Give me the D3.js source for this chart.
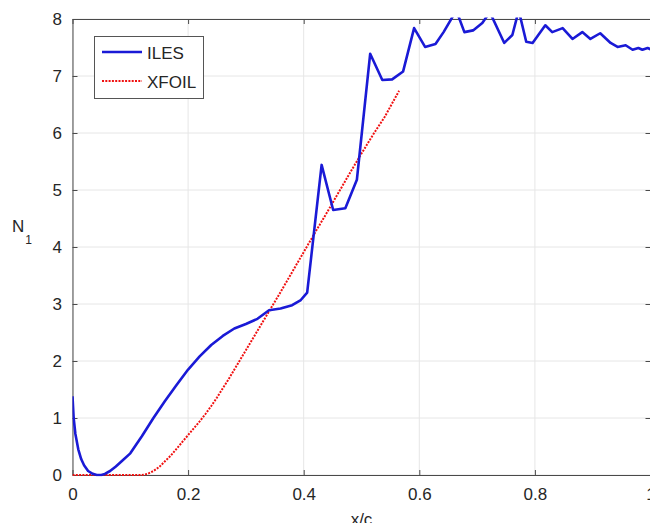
<!DOCTYPE html>
<html>
<head>
<meta charset="utf-8">
<script src="https://cdn.jsdelivr.net/npm/d3@7"></script>
<style>
  html, body { margin: 0; padding: 0; background: #fff; overflow: hidden; }
  svg { display: block; font-family: "Liberation Sans", Arial, Helvetica, sans-serif; }
</style>
</head>
<body>
<svg id="chart" width="650" height="523"></svg>
<script>
// ILES transition indicator N1 along the chord
const ilesX = [0, 0.002, 0.005, 0.01, 0.015, 0.02, 0.027, 0.035, 0.042, 0.05, 0.056, 0.065, 0.075, 0.085, 0.1, 0.12, 0.14, 0.16, 0.18, 0.2, 0.22, 0.24, 0.26, 0.28, 0.3, 0.32, 0.34, 0.36, 0.38, 0.395, 0.406,
  0.431, 0.451, 0.472, 0.492, 0.515, 0.536, 0.553, 0.572, 0.591, 0.61, 0.628, 0.642, 0.664, 0.678, 0.693, 0.709, 0.722, 0.747, 0.761, 0.772, 0.785, 0.796, 0.818, 0.83, 0.848, 0.865, 0.882, 0.896, 0.913, 0.931, 0.943, 0.957, 0.969, 0.979, 0.986, 0.995, 1.0];
const ilesN = [1.38, 1.0, 0.72, 0.45, 0.28, 0.17, 0.07, 0.02, 0.0, 0.0, 0.02, 0.07, 0.15, 0.24, 0.38, 0.68, 1.0, 1.3, 1.58, 1.85, 2.08, 2.28, 2.44, 2.57, 2.65, 2.74, 2.89, 2.92, 2.98, 3.07, 3.2,
  5.44, 4.65, 4.68, 5.18, 7.39, 6.93, 6.94, 7.08, 7.84, 7.51, 7.56, 7.77, 8.15, 7.77, 7.8, 7.93, 8.12, 7.58, 7.72, 8.15, 7.6, 7.58, 7.89, 7.77, 7.84, 7.65, 7.77, 7.65, 7.75, 7.58, 7.51, 7.54, 7.46, 7.49, 7.46, 7.49, 7.47];

// XFOIL envelope N-factor
const xfoilX = [0, 0.12, 0.13, 0.14, 0.15, 0.16, 0.17, 0.18, 0.19, 0.2, 0.21, 0.22, 0.23, 0.24, 0.25, 0.26, 0.27, 0.28, 0.29, 0.3, 0.31, 0.32, 0.33, 0.34, 0.35, 0.36, 0.38, 0.4, 0.42, 0.44, 0.46, 0.48, 0.5, 0.52, 0.54, 0.565];
const xfoilN = [0, 0, 0.02, 0.07, 0.14, 0.24, 0.34, 0.46, 0.58, 0.7, 0.82, 0.94, 1.07, 1.21, 1.36, 1.52, 1.68, 1.85, 2.02, 2.19, 2.36, 2.53, 2.7, 2.87, 3.04, 3.21, 3.56, 3.91, 4.26, 4.6, 4.95, 5.3, 5.64, 5.97, 6.28, 6.74];

const xTickValues = [0, 0.2, 0.4, 0.6, 0.8, 1];
const xTickLabels = ["0", "0.2", "0.4", "0.6", "0.8", "1"];
const yTickValues = [0, 1, 2, 3, 4, 5, 6, 7, 8];
const yTickLabels = ["0", "1", "2", "3", "4", "5", "6", "7", "8"];

const seriesNames = ["ILES", "XFOIL"];

const svg = d3.select("#chart");
const plotLeft = 72.5, plotRight = 650.5, plotTop = 19, plotBottom = 475;

const x = d3.scaleLinear().domain([0, 1]).range([plotLeft, plotRight]);
const y = d3.scaleLinear().domain([0, 8]).range([plotBottom, plotTop]);

const axisColor = "#4a4a4a";
const textColor = "#262626";

// grid
const grid = svg.append("g");
grid.selectAll("line.gx").data(xTickValues).join("line")
  .attr("x1", d => x(d)).attr("x2", d => x(d))
  .attr("y1", plotTop).attr("y2", plotBottom)
  .attr("stroke", "#e6e6e6").attr("stroke-width", 1);
grid.selectAll("line.gy").data(yTickValues).join("line")
  .attr("x1", plotLeft).attr("x2", plotRight)
  .attr("y1", d => y(d)).attr("y2", d => y(d))
  .attr("stroke", "#e6e6e6").attr("stroke-width", 1);

function styleAxis(g, labels) {
  g.select(".domain").attr("stroke", axisColor);
  g.selectAll(".tick line").attr("stroke", axisColor);
  g.selectAll(".tick text").attr("fill", textColor).style("font-size", "17px");
  if (!labels) g.selectAll(".tick text").remove();
}

// bottom axis, ticks pointing inward
svg.append("g").attr("transform", `translate(0,${plotBottom})`)
  .call(d3.axisBottom(x).tickValues(xTickValues)
    .tickFormat((d, i) => xTickLabels[i]).tickSizeInner(-5).tickSizeOuter(0).tickPadding(12.5))
  .call(g => styleAxis(g, true));

// top box edge
svg.append("g").attr("transform", `translate(0,${plotTop})`)
  .call(d3.axisTop(x).tickValues(xTickValues).tickSizeInner(-5).tickSizeOuter(0))
  .call(g => styleAxis(g, false));

// left axis
svg.append("g").attr("transform", `translate(${plotLeft},0)`)
  .call(d3.axisLeft(y).tickValues(yTickValues)
    .tickFormat((d, i) => yTickLabels[i]).tickSizeInner(-5).tickSizeOuter(0).tickPadding(10.5))
  .call(g => styleAxis(g, true));

// right box edge
svg.append("g").attr("transform", `translate(${plotRight},0)`)
  .call(d3.axisRight(y).tickValues(yTickValues).tickSizeInner(-5).tickSizeOuter(0))
  .call(g => styleAxis(g, false));

svg.selectAll(".domain").attr("stroke-width", 1);

// clip to plot area
svg.append("clipPath").attr("id", "plotClip")
  .append("rect").attr("x", plotLeft).attr("y", plotTop - 1.5)
  .attr("width", plotRight - plotLeft).attr("height", plotBottom - plotTop + 3);

const line = d3.line().x(d => x(d[0])).y(d => y(d[1]));

const plot = svg.append("g").attr("clip-path", "url(#plotClip)");

plot.append("path")
  .datum(xfoilX.map((v, i) => [v, xfoilN[i]]))
  .attr("d", line)
  .attr("fill", "none")
  .attr("stroke", "#f01010")
  .attr("stroke-width", 2)
  .attr("stroke-dasharray", "2,1.3");

plot.append("path")
  .datum(ilesX.map((v, i) => [v, ilesN[i]]))
  .attr("d", line)
  .attr("fill", "none")
  .attr("stroke", "#1a1ad6")
  .attr("stroke-width", 2.6)
  .attr("stroke-linejoin", "round");

// legend
const lg = svg.append("g");
lg.append("rect").attr("x", 94.5).attr("y", 36.5).attr("width", 109).attr("height", 62)
  .attr("fill", "#fff").attr("stroke", "#555").attr("stroke-width", 1);
const legendStyles = [
  { color: "#1a1ad6", width: 2.6, dash: null, y: 52 },
  { color: "#f01010", width: 2, dash: "2,1.3", y: 81 }
];
seriesNames.forEach((name, i) => {
  const s = legendStyles[i];
  lg.append("line").attr("x1", 102).attr("x2", 142).attr("y1", s.y).attr("y2", s.y)
    .attr("stroke", s.color).attr("stroke-width", s.width)
    .attr("stroke-dasharray", s.dash);
  lg.append("text").attr("x", 147).attr("y", s.y + 6.5)
    .attr("fill", textColor).style("font-size", "17px").text(name);
});

// axis titles
const yl = svg.append("text").attr("x", 12).attr("y", 232).attr("fill", textColor).style("font-size", "17px");
yl.append("tspan").text("N");
yl.append("tspan").attr("dx", 1).attr("dy", 12).style("font-size", "12px").text("1");

svg.append("text").attr("x", (plotLeft + plotRight) / 2).attr("y", 525).attr("text-anchor", "middle")
  .attr("fill", textColor).style("font-size", "17px").text("x/c");
</script>
</body>
</html>
